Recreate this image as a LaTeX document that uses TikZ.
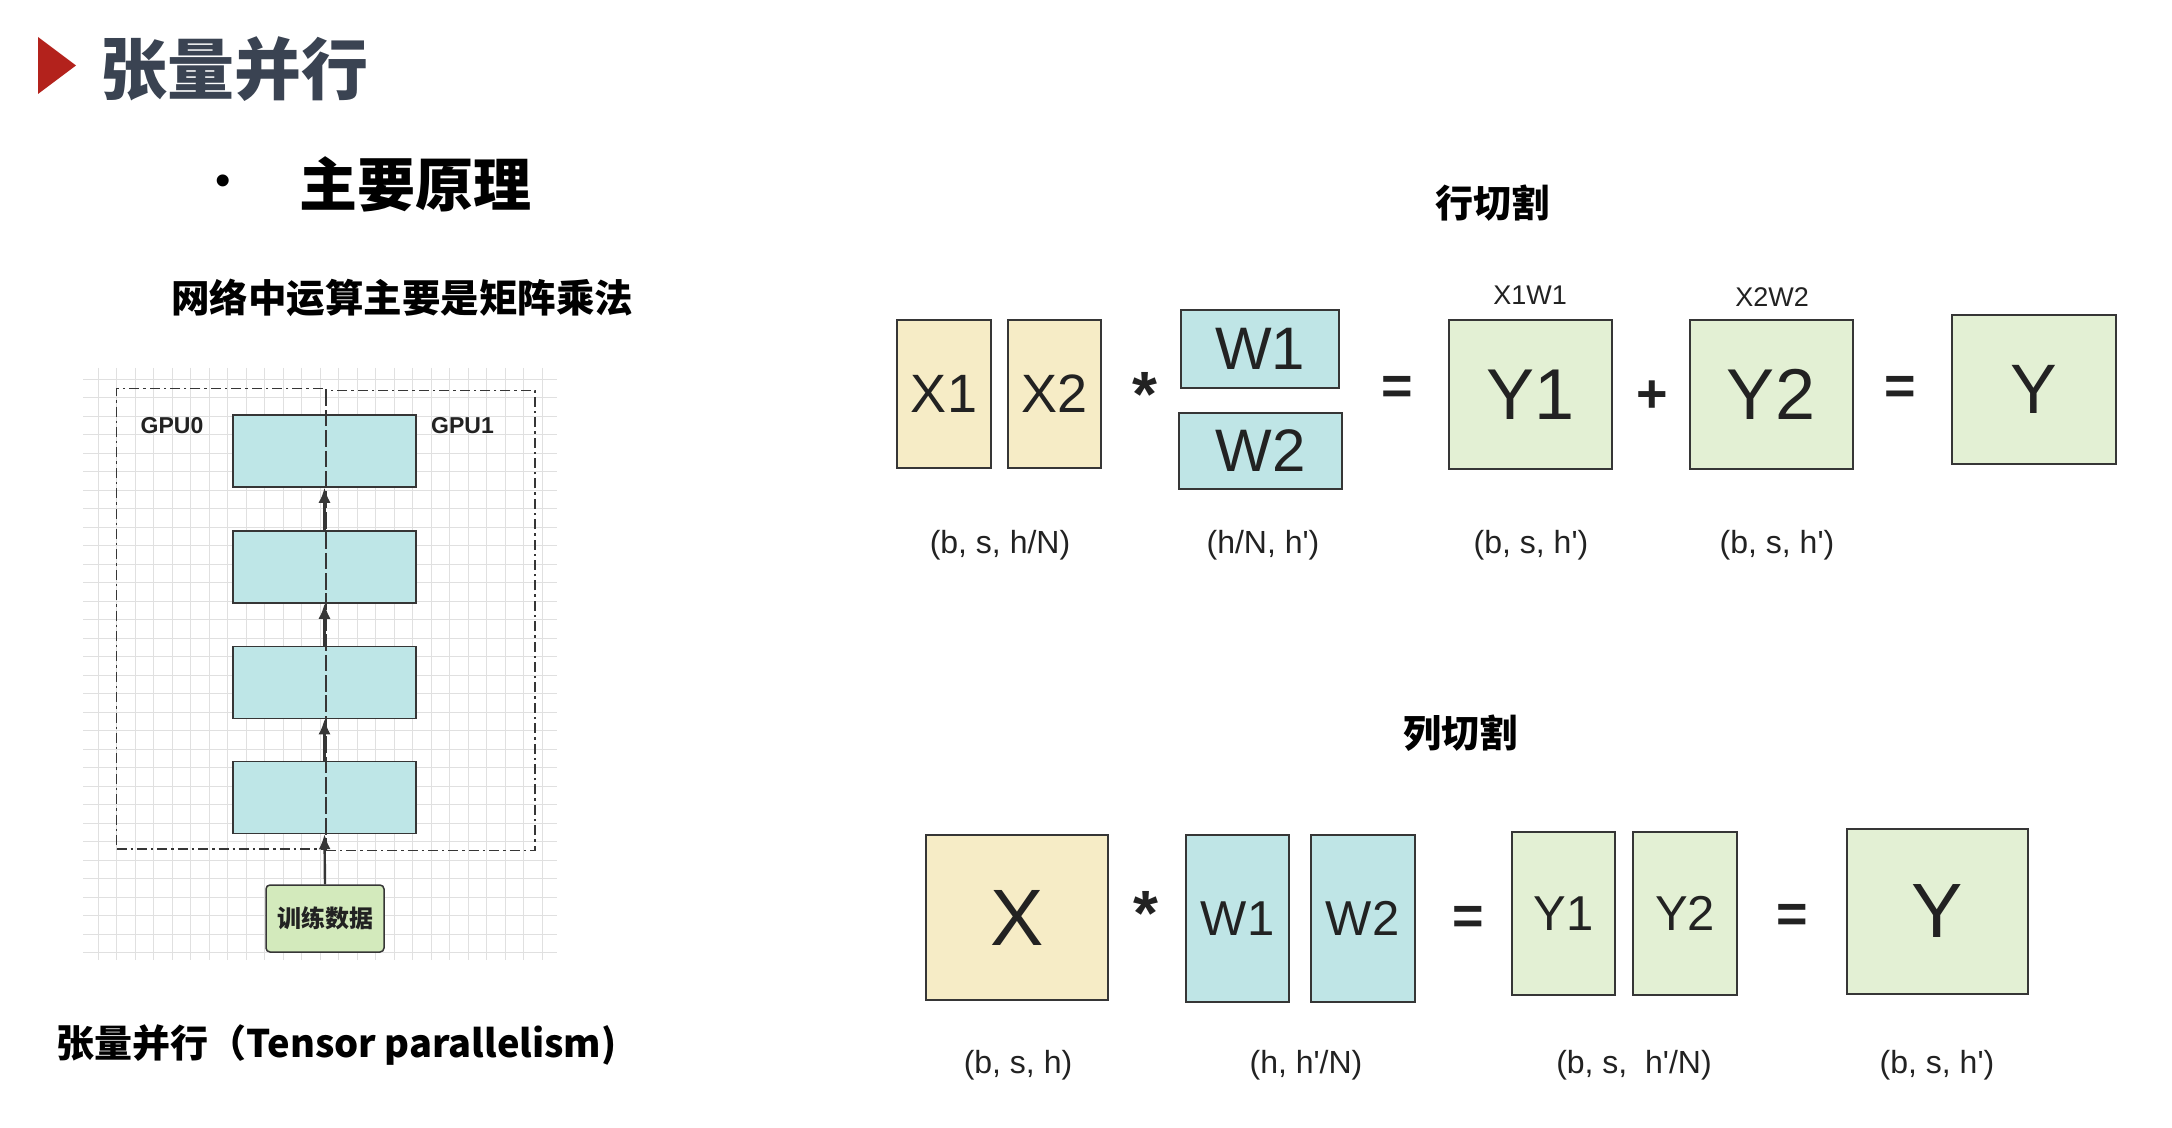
\documentclass[tikz,border=0pt]{standalone}
\usepackage{fontspec}
\setmainfont{Liberation Sans}
\newfontfamily\cjk{Noto Sans CJK SC}
\usetikzlibrary{arrows.meta}
\definecolor{titlec}{HTML}{3A4352}
\definecolor{tri}{HTML}{B3221C}
\definecolor{gridc}{HTML}{E0E0E0}
\definecolor{linec}{HTML}{363636}
\definecolor{bluef}{HTML}{BEE6E7}
\definecolor{greenf}{HTML}{D3EABC}
\definecolor{xf}{HTML}{F6ECC6}
\definecolor{wf}{HTML}{BFE5E6}
\definecolor{yf}{HTML}{E3F0D4}
\definecolor{txt}{HTML}{222222}
\newcommand\myfs[1]{\fontsize{#1pt}{#1pt}\selectfont}
\newcommand\pr{\textquotesingle}
\begin{document}
\begin{tikzpicture}[x=0.5pt,y=-0.5pt,
  gridln/.style={draw=gridc,line width=0.5pt},
  gpubox/.style={draw=linec,line width=0.8pt,dash pattern=on 5pt off 2pt on 1.2pt off 2pt,inner sep=0pt},
  layer/.style={draw=linec,line width=0.75pt,fill=bluef,minimum width=91.5pt,minimum height=36pt,inner sep=0pt},
  databox/.style={draw=linec,line width=0.75pt,fill=greenf,rounded corners=2pt,minimum width=59pt,minimum height=33.5pt,inner sep=0pt,font=\cjk\bfseries\myfs{12},text=txt},
  arr/.style={draw=linec,line width=1.2pt,-{Latex[length=7.5pt,width=6pt]}},
  gpulab/.style={font=\bfseries\myfs{11.5},text=txt,inner sep=0pt},
  mbox/.style={draw=linec,line width=1pt,inner sep=0pt,text=txt},
  xbox/.style={mbox,fill=xf},
  wbox/.style={mbox,fill=wf},
  ybox/.style={mbox,fill=yf},
  op/.style={inner sep=0pt,text=txt,font=\bfseries\myfs{27}},
  star/.style={inner sep=0pt,text=txt,font=\bfseries\myfs{32}},
  dimlab/.style={inner sep=0pt,text=txt,font=\myfs{16}},
  head/.style={inner sep=0pt,font=\cjk\bfseries\myfs{19}},
]
\useasboundingbox (0,0) rectangle (2172,1128);
\fill[white] (0,0) rectangle (2172,1128);

% ---------- title ----------
\fill[tri] (38,37) -- (38,94) -- (76,65.5) -- cycle;
\node[anchor=west,inner sep=0pt,text=titlec,font=\cjk\bfseries\myfs{33.5}] (title) at (100,69.5) {张量并行};
\node[inner sep=0pt,font=\myfs{22}] (bullet) at (223,185) {•};
\node[inner sep=0pt,font=\cjk\bfseries\myfs{29}] (sub) at (415,184) {主要原理};
\node[head,font=\cjk\bfseries\myfs{19.25}] (net) at (402,298) {网络中运算主要是矩阵乘法};

% ---------- left diagram ----------
\foreach \i in {0,...,24} \draw[gridln] ({98+18.5*\i},368) -- ({98+18.5*\i},960);
\foreach \j in {0,...,31} \draw[gridln] (83,{379.3+18.5*\j}) -- (557,{379.3+18.5*\j});

\node[layer] (L1) at (324.5,451) {};
\node[layer] (L2) at (324.5,567) {};
\node[layer] (L3) at (324.5,682.5) {};
\node[layer] (L4) at (324.5,797.5) {};

\node[gpubox,minimum width=104.75pt,minimum height=230.25pt] (gpu0) at (221.25,618.75) {};
\node[gpubox,minimum width=104.5pt,minimum height=230pt] (gpu1) at (430.5,620.5) {};
\node[gpulab] (g0) at (172,426) {GPU0};
\node[gpulab] (g1) at (462.5,426) {GPU1};

\node[databox] (data) at (325,918.5) {训练数据};

\draw[arr] (data.north) -- (L4.south);
\draw[arr] (L4.north) -- (L3.south);
\draw[arr] (L3.north) -- (L2.south);
\draw[arr] (L2.north) -- (L1.south);

\node[anchor=west,head] (cap) at (56,1045) {张量并行（Tensor parallelism)};

% ---------- row split ----------
\node[head] (rowt) at (1492,203) {行切割};
\node[xbox,minimum width=47pt,minimum height=74pt,font=\myfs{27}] (rx1) at (944,394) {X1};
\node[xbox,minimum width=46.5pt,minimum height=74pt,font=\myfs{27}] (rx2) at (1054.5,394) {X2};
\node[star] (rs) at (1145,394) {*};
\node[wbox,minimum width=79pt,minimum height=39pt,font=\myfs{30}] (rw1) at (1260,349) {W1};
\node[wbox,minimum width=81.5pt,minimum height=38pt,font=\myfs{30}] (rw2) at (1260.5,451) {W2};
\node[op] (re1) at (1397,390) {=};
\node[ybox,minimum width=81.5pt,minimum height=74.5pt,font=\myfs{36}] (ry1) at (1530.5,394.5) {Y1};
\node[op] (rp) at (1652,397) {+};
\node[ybox,minimum width=81.5pt,minimum height=74.5pt,font=\myfs{36}] (ry2) at (1771,394.5) {Y2};
\node[op] (re2) at (1900,390) {=};
\node[ybox,minimum width=82pt,minimum height=74.5pt,font=\myfs{35}] (ry) at (2034,389.5) {Y};
\node[dimlab,font=\myfs{13.5}] (lx1w1) at (1530,295) {X1W1};
\node[dimlab,font=\myfs{13.5}] (lx2w2) at (1772,297) {X2W2};
\node[dimlab] (rd1) at (1000,545) {(b, s, h/N)};
\node[dimlab] (rd2) at (1263,545) {(h/N, h\pr)};
\node[dimlab] (rd3) at (1531,545) {(b, s, h\pr)};
\node[dimlab] (rd4) at (1777,545) {(b, s, h\pr)};

% ---------- column split ----------
\node[head] (colt) at (1460,733) {列切割};
\node[xbox,minimum width=91pt,minimum height=82.5pt,font=\myfs{40}] (cx) at (1017,917.5) {X};
\node[star] (cs) at (1146,913) {*};
\node[wbox,minimum width=51.5pt,minimum height=83.5pt,font=\myfs{24.5}] (cw1) at (1237.5,918.5) {W1};
\node[wbox,minimum width=52pt,minimum height=83.5pt,font=\myfs{24.5}] (cw2) at (1362.5,918.5) {W2};
\node[op] (ce1) at (1468,920) {=};
\node[ybox,minimum width=51.5pt,minimum height=81.5pt,font=\myfs{24.5}] (cy1) at (1563.5,913.5) {Y1};
\node[ybox,minimum width=52pt,minimum height=81.5pt,font=\myfs{24.5}] (cy2) at (1685,913.5) {Y2};
\node[op] (ce2) at (1792,918) {=};
\node[ybox,minimum width=90.5pt,minimum height=82.5pt,font=\myfs{38.5}] (cy) at (1937.5,911.5) {Y};
\node[dimlab] (cd1) at (1018,1065) {(b, s, h)};
\node[dimlab] (cd2) at (1306,1065) {(h, h\pr/N)};
\node[dimlab] (cd3) at (1634,1065) {(b, s,\ \ h\pr/N)};
\node[dimlab] (cd4) at (1937,1065) {(b, s, h\pr)};
\end{tikzpicture}
\end{document}
